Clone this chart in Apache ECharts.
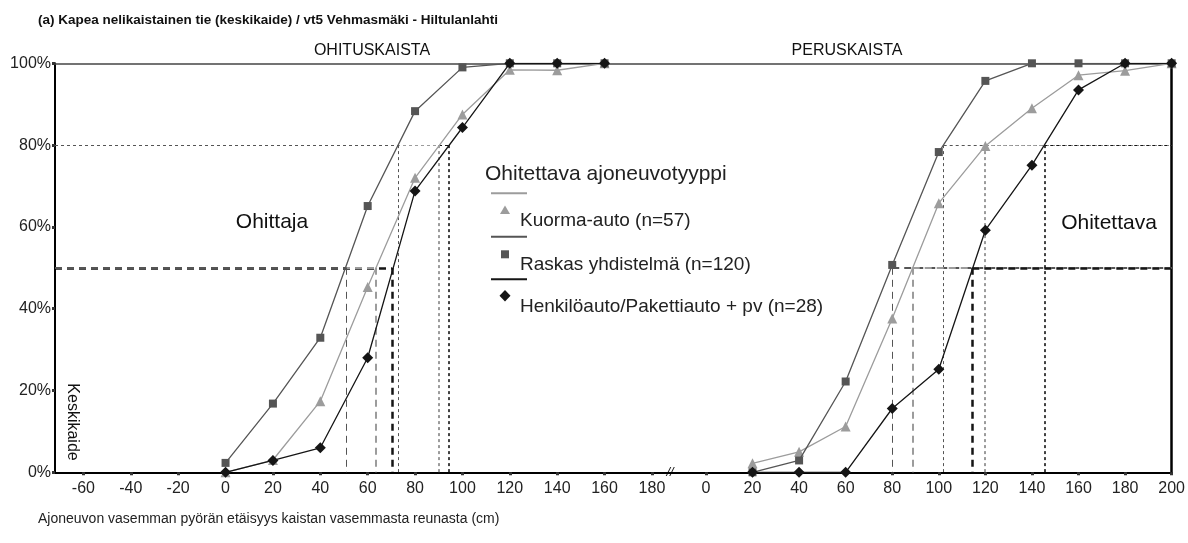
<!DOCTYPE html>
<html>
<head>
<meta charset="utf-8">
<script src="https://cdn.jsdelivr.net/npm/echarts@6/dist/echarts.min.js"></script>
<style>
  html, body { margin: 0; padding: 0; background: #fff; }
  #main { width: 1188px; height: 543px; }
</style>
</head>
<body>
<div id="main"></div>
<script>
// OHITUSKAISTA (left part) and PERUSKAISTA (right part), cumulative %
const xLeft = [0, 20, 40, 60, 80, 100, 120, 140, 160];
const kuormaLeft = [0, 3, 17.4, 45.3, 72, 87.5, 98.4, 98.3, 100];
const raskasLeft = [2.3, 16.8, 32.9, 65.1, 88.3, 99.0, 100, 100, 100];
const henkiloLeft = [0, 2.9, 6.0, 28.0, 68.8, 84.3, 100, 100, 100];

const xRight = [20, 40, 60, 80, 100, 120, 140, 160, 180, 200];
const kuormaRight = [2.2, 5.0, 11.2, 37.6, 65.8, 79.8, 89.0, 97.1, 98.2, 100];
const raskasRight = [0, 2.9, 22.2, 50.7, 78.3, 95.7, 100, 100, 100, 100];
const henkiloRight = [0, 0, 0, 15.6, 25.2, 59.2, 75.1, 93.5, 100, 100];

// 50 % and 80 % crossing points: [kuorma, raskas, henkilo]
const left50 = [63.5, 51.0, 70.2];
const left80 = [90.2, 72.7, 94.2];
const right50 = [88.8, 80.0, 114.4];
const right80 = [119.9, 102.1, 145.3];

const leftTicks = [-60, -40, -20, 0, 20, 40, 60, 80, 100, 120, 140, 160, 180];
const rightTicks = [0, 20, 40, 60, 80, 100, 120, 140, 160, 180, 200];

const seriesNames = ['Kuorma-auto (n=57)', 'Raskas yhdistelmä (n=120)', 'Henkilöauto/Pakettiauto + pv (n=28)'];

const FONT = '"Liberation Sans", Arial, sans-serif';
const LEFT_MIN = -72, LEFT_MAX = 191;
const RIGHT_MIN = -12, RIGHT_MAX = 200;

const looks = [
  { color: '#9c9c9c', symbol: 'triangle', size: 10, v50: 2, v80: 2 },
  { color: '#555555', symbol: 'rect', size: 8, v50: 1, v80: 1 },
  { color: '#151515', symbol: 'diamond', size: 11, v50: 2.5, v80: 1.6 }
];

function guideLines(idx, x50, x80, side) {
  const lk = looks[idx];
  const dash50 = { type: [7, 5], color: lk.color };
  const dot80 = { type: [3, 3], color: lk.color };
  const h50 = side === 'left' ? [[LEFT_MIN, 50], [x50, 50]] : [[x50, 50], [RIGHT_MAX, 50]];
  const h80 = side === 'left' ? [[LEFT_MIN, 80], [x80, 80]] : [[x80, 80], [RIGHT_MAX, 80]];
  return [
    [{ coord: h50[0], lineStyle: Object.assign({ width: idx === 2 ? 2.5 : 2 }, dash50) }, { coord: h50[1] }],
    [{ coord: [x50, 50], lineStyle: Object.assign({ width: lk.v50 }, dash50) }, { coord: [x50, 0] }],
    [{ coord: h80[0], lineStyle: Object.assign({ width: 1 }, dot80) }, { coord: h80[1] }],
    [{ coord: [x80, 80], lineStyle: Object.assign({ width: lk.v80 }, dot80) }, { coord: [x80, 0] }]
  ];
}

function makeSeries(idx, xs, ys, gridIdx, x50, x80, side) {
  const lk = looks[idx];
  const lines = guideLines(idx, x50, x80, side);
  if (idx === 1) {
    const span = side === 'left' ? [LEFT_MIN, LEFT_MAX] : [RIGHT_MIN, RIGHT_MAX];
    lines.push([{ coord: [span[0], 100], lineStyle: { color: '#444', width: 1.5, type: 'solid' } }, { coord: [span[1], 100] }]);
  }
  // shorter guide segments sit on top of the longer ones
  const guideZ = side === 'left' ? [1, 2, 0][idx] : [1, 0, 2][idx];
  return {
    name: seriesNames[idx],
    type: 'line',
    xAxisIndex: gridIdx,
    yAxisIndex: gridIdx,
    data: xs.map((v, i) => [v, ys[i]]),
    symbol: lk.symbol,
    symbolSize: lk.size,
    showAllSymbol: true,
    itemStyle: { color: lk.color },
    lineStyle: { color: lk.color, width: 1.3 },
    z: 3 + idx,
    markLine: {
      silent: true,
      symbol: 'none',
      z: guideZ,
      label: { show: false },
      data: lines
    }
  };
}

function xAxisFor(gridIdx, min, max, ticks) {
  return {
    type: 'value',
    gridIndex: gridIdx,
    min: min,
    max: max,
    axisLine: { show: true, onZero: false, lineStyle: { color: '#000', width: 2 } },
    axisTick: { show: true, customValues: ticks, length: 3, lineStyle: { color: '#333', width: 3 } },
    axisLabel: { customValues: ticks, fontSize: 16, fontFamily: FONT, color: '#222', margin: 8 },
    splitLine: { show: false }
  };
}

const myChart = echarts.init(document.getElementById('main'));

myChart.setOption({
  animation: false,
  backgroundColor: '#fff',
  grid: [
    { left: 55, width: 623, top: 63.3, bottom: 70.7 },
    { left: 678, right: 15.3, top: 63.3, bottom: 70.7 }
  ],
  xAxis: [
    xAxisFor(0, LEFT_MIN, LEFT_MAX, leftTicks),
    xAxisFor(1, RIGHT_MIN, RIGHT_MAX, rightTicks)
  ],
  yAxis: [
    {
      type: 'value', gridIndex: 0, min: 0, max: 100, interval: 20,
      axisLine: { show: true, onZero: false, lineStyle: { color: '#000', width: 2 } },
      axisTick: { show: true, length: 3, lineStyle: { color: '#333', width: 3 } },
      axisLabel: { formatter: '{value}%', fontSize: 16, fontFamily: FONT, color: '#222', margin: 4, padding: [8, 0, 0, 0] },
      splitLine: { show: false }
    },
    {
      type: 'value', gridIndex: 1, min: 0, max: 100, position: 'right',
      axisLine: { show: true, onZero: false, lineStyle: { color: '#000', width: 2.5 } },
      axisTick: { show: false },
      axisLabel: { show: false },
      splitLine: { show: false }
    }
  ],
  series: [
    makeSeries(0, xLeft, kuormaLeft, 0, left50[0], left80[0], 'left'),
    makeSeries(1, xLeft, raskasLeft, 0, left50[1], left80[1], 'left'),
    makeSeries(2, xLeft, henkiloLeft, 0, left50[2], left80[2], 'left'),
    makeSeries(0, xRight, kuormaRight, 1, right50[0], right80[0], 'right'),
    makeSeries(1, xRight, raskasRight, 1, right50[1], right80[1], 'right'),
    makeSeries(2, xRight, henkiloRight, 1, right50[2], right80[2], 'right')
  ],
  graphic: [
    { type: 'text', x: 38, y: 20, style: { text: '(a) Kapea nelikaistainen tie (keskikaide) / vt5 Vehmasmäki - Hiltulanlahti', font: 'bold 13.5px ' + FONT, fill: '#111', verticalAlign: 'middle' } },
    { type: 'text', x: 372, y: 51, style: { text: 'OHITUSKAISTA', font: '16px ' + FONT, fill: '#111', align: 'center', verticalAlign: 'middle' } },
    { type: 'text', x: 847, y: 51, style: { text: 'PERUSKAISTA', font: '16px ' + FONT, fill: '#111', align: 'center', verticalAlign: 'middle' } },
    { type: 'text', x: 272, y: 222, style: { text: 'Ohittaja', font: '21px ' + FONT, fill: '#111', align: 'center', verticalAlign: 'middle' } },
    { type: 'text', x: 1109, y: 223, style: { text: 'Ohitettava', font: '21px ' + FONT, fill: '#111', align: 'center', verticalAlign: 'middle' } },
    { type: 'text', x: 72, y: 422, rotation: -Math.PI / 2, style: { text: 'Keskikaide', font: '16px ' + FONT, fill: '#111', align: 'center', verticalAlign: 'middle' } },
    { type: 'text', x: 670, y: 472, style: { text: '//', font: 'italic 13px ' + FONT, fill: '#111', align: 'center', verticalAlign: 'middle' } },
    // legend
    { type: 'text', x: 485, y: 174, style: { text: 'Ohitettava ajoneuvotyyppi', font: '21px ' + FONT, fill: '#222', verticalAlign: 'middle' } },
    { type: 'line', shape: { x1: 491, y1: 193.3, x2: 527, y2: 193.3 }, style: { stroke: looks[0].color, lineWidth: 2 } },
    { type: 'polygon', shape: { points: [[505, 205.5], [510, 214], [500, 214]] }, style: { fill: looks[0].color } },
    { type: 'text', x: 520, y: 221, style: { text: seriesNames[0], font: '19px ' + FONT, fill: '#222', verticalAlign: 'middle' } },
    { type: 'line', shape: { x1: 491, y1: 236.7, x2: 527, y2: 236.7 }, style: { stroke: looks[1].color, lineWidth: 2 } },
    { type: 'rect', shape: { x: 501, y: 250.3, width: 8, height: 8 }, style: { fill: looks[1].color } },
    { type: 'text', x: 520, y: 265, style: { text: seriesNames[1], font: '19px ' + FONT, fill: '#222', verticalAlign: 'middle' } },
    { type: 'line', shape: { x1: 491, y1: 279.3, x2: 527, y2: 279.3 }, style: { stroke: looks[2].color, lineWidth: 2 } },
    { type: 'polygon', shape: { points: [[505, 290], [510.5, 295.7], [505, 301.4], [499.5, 295.7]] }, style: { fill: looks[2].color } },
    { type: 'text', x: 520, y: 307, style: { text: seriesNames[2], font: '19px ' + FONT, fill: '#222', verticalAlign: 'middle' } },
    { type: 'text', x: 38, y: 519, style: { text: 'Ajoneuvon vasemman pyörän etäisyys kaistan vasemmasta reunasta (cm)', font: '14px ' + FONT, fill: '#222', verticalAlign: 'middle' } }
  ]
});
</script>
</body>
</html>
